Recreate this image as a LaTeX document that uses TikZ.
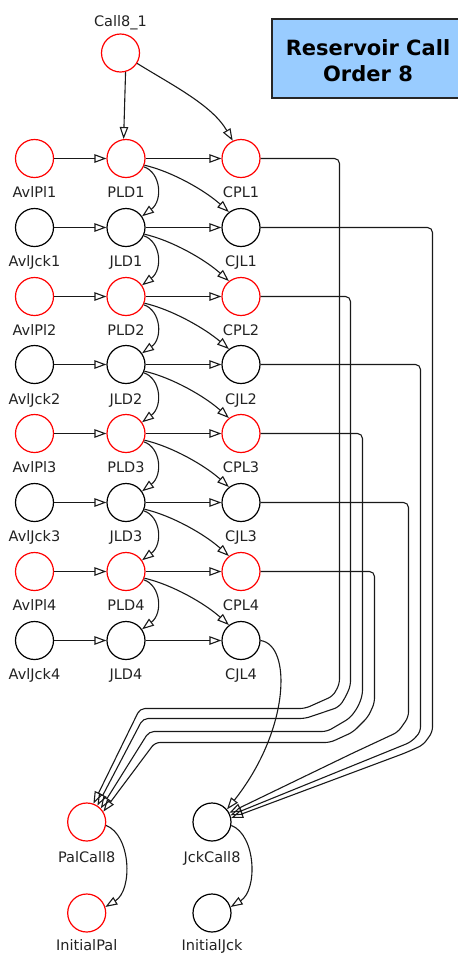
\documentclass[tikz,border=0pt]{standalone}
\usepackage{fontspec}
\setmainfont{DejaVu Sans}
\usetikzlibrary{arrows.meta}
\definecolor{titleblue}{RGB}{153,204,255}
\definecolor{lblgray}{RGB}{34,34,34}
\begin{document}
\begin{tikzpicture}[x=1pt,y=-1pt,
  pn/.style={circle,draw=red,line width=1.2pt,minimum size=38pt,inner sep=0pt},
  jn/.style={circle,draw=black,line width=1.2pt,minimum size=38pt,inner sep=0pt},
  lbl/.style={font=\fontsize{14.5}{16}\selectfont,text=lblgray,inner sep=0pt,anchor=base},
  arr/.style={draw=black!90,line width=1.1pt,-{Triangle[open,length=12pt,width=8.5pt]}},
  route/.style={arr,rounded corners=5pt}
]
\useasboundingbox (0,0) rectangle (458,954);

% title box
\fill[titleblue] (272,19) rectangle (458,98);
\draw[line width=1.2pt,black!85] (458,19) -- (272,19) -- (272,98) -- (458,98);
\node[font=\fontsize{21}{26}\selectfont\bfseries,align=center,inner sep=0pt] (title) at (368,61) {Reservoir Call\\Order 8};

% nodes
\node[pn] (Call8_1) at (120.5,53) {};
\node[lbl] (Call8_1-l) at (120.5,26) {Call8\_1};

\node[pn] (AvlPl1) at (34.5,158.5) {};
\node[pn] (PLD1) at (126,158.5) {};
\node[pn] (CPL1) at (241,158.5) {};
\node[jn] (AvlJck1) at (34.5,227.5) {};
\node[jn] (JLD1) at (126,227.5) {};
\node[jn] (CJL1) at (241,227.5) {};

\node[pn] (AvlPl2) at (34.5,296.5) {};
\node[pn] (PLD2) at (126,296.5) {};
\node[pn] (CPL2) at (241,296.5) {};
\node[jn] (AvlJck2) at (34.5,364.5) {};
\node[jn] (JLD2) at (126,364.5) {};
\node[jn] (CJL2) at (241,364.5) {};

\node[pn] (AvlPl3) at (34.5,433.5) {};
\node[pn] (PLD3) at (126,433.5) {};
\node[pn] (CPL3) at (241,433.5) {};
\node[jn] (AvlJck3) at (34.5,502.5) {};
\node[jn] (JLD3) at (126,502.5) {};
\node[jn] (CJL3) at (241,502.5) {};

\node[pn] (AvlPl4) at (34.5,571.5) {};
\node[pn] (PLD4) at (126,571.5) {};
\node[pn] (CPL4) at (241,571.5) {};
\node[jn] (AvlJck4) at (34.5,640.5) {};
\node[jn] (JLD4) at (126,640.5) {};
\node[jn] (CJL4) at (241,640.5) {};

\node[pn] (PalCall8) at (86.7,822) {};
\node[jn] (JckCall8) at (212,822) {};
\node[pn] (InitialPal) at (86.7,913) {};
\node[jn] (InitialJck) at (212,913) {};

% labels
\node[lbl] (AvlPl1-l) at (34.5,197.5) {AvlPl1};
\node[lbl] (PLD1-l) at (126,197.5) {PLD1};
\node[lbl] (CPL1-l) at (241,197.5) {CPL1};
\node[lbl] (AvlJck1-l) at (34.5,266.5) {AvlJck1};
\node[lbl] (JLD1-l) at (126,266.5) {JLD1};
\node[lbl] (CJL1-l) at (241,266.5) {CJL1};
\node[lbl] (AvlPl2-l) at (34.5,335.5) {AvlPl2};
\node[lbl] (PLD2-l) at (126,335.5) {PLD2};
\node[lbl] (CPL2-l) at (241,335.5) {CPL2};
\node[lbl] (AvlJck2-l) at (34.5,404) {AvlJck2};
\node[lbl] (JLD2-l) at (126,404) {JLD2};
\node[lbl] (CJL2-l) at (241,404) {CJL2};
\node[lbl] (AvlPl3-l) at (34.5,472.5) {AvlPl3};
\node[lbl] (PLD3-l) at (126,472.5) {PLD3};
\node[lbl] (CPL3-l) at (241,472.5) {CPL3};
\node[lbl] (AvlJck3-l) at (34.5,541.5) {AvlJck3};
\node[lbl] (JLD3-l) at (126,541.5) {JLD3};
\node[lbl] (CJL3-l) at (241,541.5) {CJL3};
\node[lbl] (AvlPl4-l) at (34.5,610.5) {AvlPl4};
\node[lbl] (PLD4-l) at (126,610.5) {PLD4};
\node[lbl] (CPL4-l) at (241,610.5) {CPL4};
\node[lbl] (AvlJck4-l) at (34.5,679.5) {AvlJck4};
\node[lbl] (JLD4-l) at (126,679.5) {JLD4};
\node[lbl] (CJL4-l) at (241,679.5) {CJL4};
\node[lbl] (PalCall8-l) at (86.7,862) {PalCall8};
\node[lbl] (JckCall8-l) at (212,862) {JckCall8};
\node[lbl] (InitialPal-l) at (86.7,950) {InitialPal};
\node[lbl] (InitialJck-l) at (212,950) {InitialJck};

% edges from Call8_1
\draw[arr] (Call8_1.-75) -- (PLD1.97);
\draw[arr] (Call8_1.-32) .. controls (172,85) and (212,105) .. (CPL1.115);

% horizontal edges
\foreach \a/\b in {AvlPl1/PLD1,PLD1/CPL1,AvlJck1/JLD1,JLD1/CJL1,
                   AvlPl2/PLD2,PLD2/CPL2,AvlJck2/JLD2,JLD2/CJL2,
                   AvlPl3/PLD3,PLD3/CPL3,AvlJck3/JLD3,JLD3/CJL3,
                   AvlPl4/PLD4,PLD4/CPL4,AvlJck4/JLD4,JLD4/CJL4}
  \draw[arr] (\a) -- (\b);

% arcs in the middle column
\foreach \a/\b/\y in {PLD1/JLD1/158.5,JLD1/PLD2/227.5,PLD2/JLD2/296.5,JLD2/PLD3/364.5,
                      PLD3/JLD3/433.5,JLD3/PLD4/502.5,PLD4/JLD4/571.5}
  \draw[arr] (\a.-25) .. controls (161,\y+14) and (163,\y+42) .. (\b.35);

% diagonals
\foreach \a/\b/\y in {PLD1/CJL1/158.5,JLD1/CPL2/227.5,PLD2/CJL2/296.5,JLD2/CPL3/364.5,
                      PLD3/CJL3/433.5,JLD3/CPL4/502.5,PLD4/CJL4/571.5}
  \draw[arr] (\a.-20) .. controls (172,\y+13) and (205,\y+32) .. (\b.128);

% routes to PalCall8
\draw[route] (CPL1.east) -- (339.5,158.5) -- (339.5,684) -- (333,696) -- (305,708.5) -- (140,708.5) -- (PalCall8.70);
\draw[route] (CPL2.east) -- (350.5,296.5) -- (350.5,686) -- (345,698) -- (339,707) -- (305,718.5) -- (143,718.5) -- (PalCall8.57);
\draw[route] (CPL3.east) -- (362.5,433.5) -- (362.5,695) -- (358,707) -- (350,718) -- (327,731.5) -- (149,731.5) -- (PalCall8.44);
\draw[route] (CPL4.east) -- (374.5,571.5) -- (374.5,703) -- (368,717) -- (353,732) -- (330,742.5) -- (155,742.5) -- (PalCall8.32);

% routes to JckCall8
\draw[route] (CJL1.east) -- (432.5,227.5) -- (432.5,732) -- (423,745) -- (405,753) -- (JckCall8.12);
\draw[route] (CJL2.east) -- (420.5,364.5) -- (420.5,732) -- (411,742) -- (JckCall8.20);
\draw[route] (CJL3.east) -- (408.5,502.5) -- (408.5,717) -- (398,732) -- (353,753) -- (JckCall8.28);
\draw[arr] (CJL4.east) .. controls (292,645) and (290,730) .. (JckCall8.40);

% final edges
\draw[arr] (PalCall8.-10) .. controls (131,835) and (133,890) .. (InitialPal.18);
\draw[arr] (JckCall8.-10) .. controls (256,835) and (258,890) .. (InitialJck.18);
\end{tikzpicture}
\end{document}
